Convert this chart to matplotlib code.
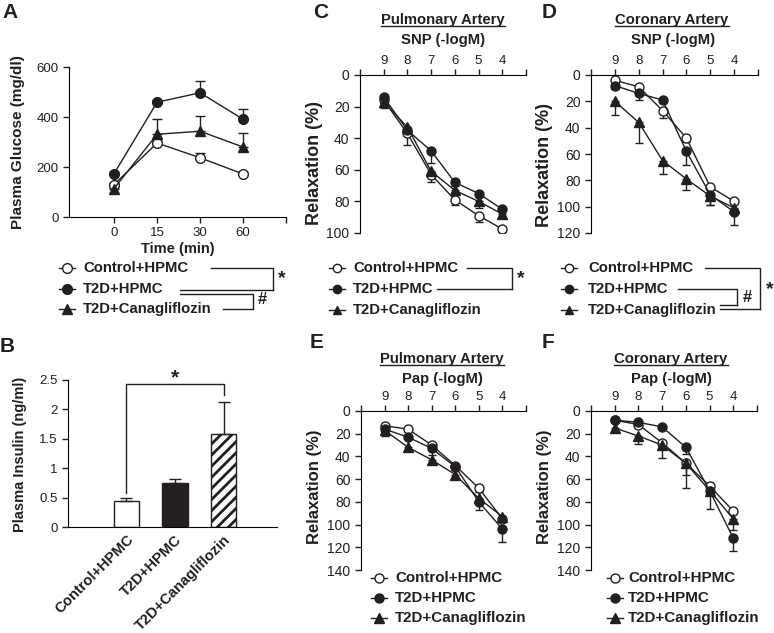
import matplotlib
matplotlib.use('Agg')
import matplotlib.pyplot as plt
from matplotlib.lines import Line2D
import numpy as np

plt.rcParams['font.family'] = ['Liberation Sans', 'DejaVu Sans']
plt.rcParams['hatch.linewidth'] = 2.0

W, H = 774, 633
INK = '#231f20'

groups = ['Control+HPMC', 'T2D+HPMC', 'T2D+Canagliflozin']

# A: plasma glucose (mg/dl) over time
time_labels = ['0', '15', '30', '60']
glu_ctrl = [130, 296, 237, 172]
glu_ctrl_err = [8, 8, 18, 6]
glu_t2d = [174, 459, 497, 391]
glu_t2d_err = [6, 8, 46, 40]
glu_cana = [114, 331, 343, 280]
glu_cana_err = [8, 60, 60, 58]

# B: plasma insulin (ng/ml)
ins_vals = [0.44, 0.75, 1.58]
ins_err = [0.05, 0.07, 0.55]
ins_ticks = ['0', '0.5', '1', '1.5', '2', '2.5']

# C-F: relaxation (%) vs -logM
conc = [9, 8, 7, 6, 5, 4]

c_ctrl = [16, 37, 63, 79, 89, 97.5]
c_t2d = [14, 35, 48, 68, 75, 85]
c_cana = [17, 33, 61, 73, 80, 88]
c_ctrl_err = [3, 7, 5, 3, 4, 2]
c_t2d_err = [2, 3, 8, 2, 2, 2]
c_cana_err = [4, 3, 3, 2, 4, 2]

d_ctrl = [4, 9, 27, 48, 85, 96]
d_t2d = [8, 14, 19, 58, 91, 104]
d_cana = [20, 36, 65, 79, 92, 101]
d_ctrl_err = [2, 2, 6, 3, 2, 2]
d_t2d_err = [3, 5, 2, 10, 8, 10]
d_cana_err = [10, 16, 10, 8, 7, 3]

e_ctrl = [13, 16, 30, 48, 68, 95]
e_t2d = [16, 23, 33, 49, 80, 104]
e_cana = [17, 32, 43, 56, 77, 93]
e_ctrl_err = [2, 2, 3, 2, 3, 3]
e_t2d_err = [2, 2, 6, 3, 7, 11]
e_cana_err = [5, 3, 3, 4, 3, 3]

f_ctrl = [8, 12, 28, 46, 66, 88]
f_t2d = [8, 10, 14, 32, 70, 112]
f_cana = [15, 22, 30, 46, 70, 95]
f_ctrl_err = [2, 2, 4, 10, 3, 3]
f_t2d_err = [2, 2, 2, 6, 3, 11]
f_cana_err = [3, 7, 11, 22, 16, 10]

styles = [dict(marker='o', mfc='white'),
          dict(marker='o', mfc=INK),
          dict(marker='^', mfc=INK)]


def fx(x):
    return x / W


def fy(y):
    return 1 - y / H


def rect(l, r, t, b):
    return [l / W, 1 - b / H, (r - l) / W, (b - t) / H]


def fline(xs, ys, lw=1.0):
    fig.add_artist(Line2D([fx(x) for x in xs], [fy(y) for y in ys],
                          color=INK, lw=lw))


def ftext(x, y, s, size, **kw):
    kw.setdefault('ha', 'center')
    kw.setdefault('va', 'center')
    return fig.text(fx(x), fy(y), s, fontsize=size, color=INK, **kw)


def legend(xm, xt, rows, size, ms, half=8):
    for st, y, name in zip(styles, rows, groups):
        fig.add_artist(Line2D([fx(xm - half), fx(xm + half)], [fy(y), fy(y)],
                              color=INK, lw=1))
        fig.add_artist(Line2D([fx(xm)], [fy(y)], marker=st['marker'], ms=ms,
                              mfc=st['mfc'], mec=INK, mew=1, color=INK))
        ftext(xt, y, name, size, ha='left', fontweight='bold')


fig = plt.figure(figsize=(W / 100, H / 100), dpi=100)

# ---------------- A
axA = fig.add_axes(rect(69, 286, 67, 217))
xs = np.arange(len(time_labels))
for vals, err, st in zip([glu_ctrl, glu_t2d, glu_cana],
                         [glu_ctrl_err, glu_t2d_err, glu_cana_err], styles):
    axA.errorbar(xs, vals, yerr=[np.zeros(len(err)), err], color=INK, lw=1,
                 elinewidth=1, capsize=3.5, ms=7, mec=INK, mew=1, **st)
axA.set_xlim(-1.05, 4)
axA.set_ylim(0, 600)
axA.set_xticks(list(xs) + [4])
axA.set_xticklabels(time_labels + [''])
axA.set_yticks([0, 200, 400, 600])
axA.spines[['top', 'right']].set_visible(False)
axA.tick_params(direction='out', length=4, width=1, colors=INK, labelsize=9.5)
axA.set_ylabel('Plasma Glucose (mg/dl)', fontsize=11, fontweight='bold', color=INK)
axA.yaxis.set_label_coords(fx(25), fy(142), transform=fig.transFigure)
ftext(178, 249, 'Time (min)', 10.5, fontweight='bold')
legend(67, 83, [268, 289, 309], 10.7, 7)
fline([211, 273, 273], [268, 268, 290])
fline([180, 273], [290, 290])
fline([180, 253, 253, 223], [294, 294, 309, 309])
ftext(282, 279, '*', 14, fontweight='bold')
ftext(262, 300, '#', 12, fontweight='bold')

# ---------------- B
axB = fig.add_axes(rect(68, 277, 380, 527))
xb = np.arange(len(groups))
axB.bar(xb, ins_vals, width=0.52, color=['white', INK, 'white'],
        edgecolor=INK, lw=1, hatch=['', '', '///'],
        yerr=[np.zeros(3), ins_err], capsize=4,
        error_kw=dict(ecolor=INK, elinewidth=1, capthick=1))
axB.set_xlim(-1.2, 3.1)
axB.set_ylim(0, 2.5)
axB.set_yticks(np.arange(0, 2.51, 0.5))
axB.set_yticklabels(ins_ticks)
axB.spines[['top', 'right']].set_visible(False)
axB.tick_params(direction='out', length=4, width=1, colors=INK, labelsize=9.5)
axB.set_xticks(xb)
axB.set_xticklabels(groups, rotation=45, ha='right', rotation_mode='anchor',
                    fontweight='bold', fontsize=10.6)
axB.tick_params(axis='x', length=0, pad=4, labelsize=10.6)
axB.set_ylabel('Plasma Insulin (ng/ml)', fontsize=10.5, fontweight='bold', color=INK)
axB.yaxis.set_label_coords(fx(27), fy(454), transform=fig.transFigure)
axB.plot([0, 0, 2, 2], [0.57, 2.43, 2.43, 2.24], color=INK, lw=1, clip_on=False)
axB.text(1, 2.53, '*', ha='center', va='center', fontsize=15,
         fontweight='bold', color=INK, clip_on=False)


# ---------------- C-F
def curve_panel(r, ymax, series, errs, ylabel_x, ylabel_y, labsize):
    ax = fig.add_axes(r)
    for vals, err, st in zip(series, errs, styles):
        ax.errorbar(conc, vals, yerr=[np.zeros(len(err)), err], color=INK, lw=1,
                    elinewidth=1, capsize=3, ms=6.5, mec=INK, mew=1, **st)
    ax.set_xlim(10, 3)
    ax.set_ylim(ymax, 0)
    ax.xaxis.tick_top()
    ax.set_xticks(range(10, 2, -1))
    ax.set_xticklabels([''] + [str(c) for c in conc] + [''])
    ax.set_yticks(np.arange(0, ymax + 1, 20))
    ax.spines[['bottom', 'right']].set_visible(False)
    ax.tick_params(direction='out', length=4, width=1, colors=INK, labelsize=10)
    ax.tick_params(axis='x', labelsize=9.5, pad=2)
    ax.set_ylabel('Relaxation (%)', fontsize=labsize, fontweight='bold', color=INK)
    ax.yaxis.set_label_coords(fx(ylabel_x), fy(ylabel_y), transform=fig.transFigure)
    return ax


curve_panel(rect(360, 526, 75, 233), 100, [c_ctrl, c_t2d, c_cana],
            [c_ctrl_err, c_t2d_err, c_cana_err], 323, 163, 13)
curve_panel(rect(591, 758, 75, 233), 120, [d_ctrl, d_t2d, d_cana],
            [d_ctrl_err, d_t2d_err, d_cana_err], 553, 165, 13)
curve_panel(rect(361, 526, 411, 570), 140, [e_ctrl, e_t2d, e_cana],
            [e_ctrl_err, e_t2d_err, e_cana_err], 322, 487, 12)
curve_panel(rect(591, 757, 411, 570), 140, [f_ctrl, f_t2d, f_cana],
            [f_ctrl_err, f_t2d_err, f_cana_err], 552, 487, 12)

titles = [ftext(443, 20, 'Pulmonary Artery', 10.7, fontweight='bold'),
          ftext(672, 20, 'Coronary Artery', 10.7, fontweight='bold'),
          ftext(442, 359, 'Pulmonary Artery', 10.7, fontweight='bold'),
          ftext(671, 359, 'Coronary Artery', 10.7, fontweight='bold')]
ftext(443, 40, 'SNP (-logM)', 10.7, fontweight='bold')
ftext(673, 40, 'SNP (-logM)', 10.7, fontweight='bold')
ftext(442, 379, 'Pap (-logM)', 10.7, fontweight='bold')
ftext(671, 379, 'Pap (-logM)', 10.7, fontweight='bold')

# legends C and D
legend(337, 353, [268, 289, 310], 10.7, 6)
fline([467, 512, 512], [268, 268, 289])
fline([437, 512], [289, 289])
ftext(521, 279, '*', 14, fontweight='bold')

legend(569, 588, [268, 289, 310], 10.7, 6)
fline([705, 760, 760], [268, 268, 309])
fline([678, 737, 737], [289, 289, 305])
fline([720, 737], [305, 305])
fline([720, 760], [309, 309])
ftext(747, 298, '#', 12, fontweight='bold')
ftext(770, 290, '*', 14, fontweight='bold')

# legends E and F
legend(379, 395, [578, 598, 618], 10.9, 6.5)
legend(615, 628, [578, 598, 618], 10.9, 6.5)

# panel letters
for letter, x, y in [('A', 2, 13), ('B', 0, 346), ('C', 313, 12),
                     ('D', 542, 12), ('E', 310, 342), ('F', 542, 342)]:
    ftext(x, y, letter, 15, ha='left', fontweight='bold')

# underline the artery titles
fig.canvas.draw()
rend = fig.canvas.get_renderer()
for t in titles:
    bb = t.get_window_extent(rend)
    yline = (bb.y0 + 1) / H
    fig.add_artist(Line2D([bb.x0 / W, bb.x1 / W], [yline, yline], color=INK, lw=1))

fig.savefig('out.png', dpi=100)
